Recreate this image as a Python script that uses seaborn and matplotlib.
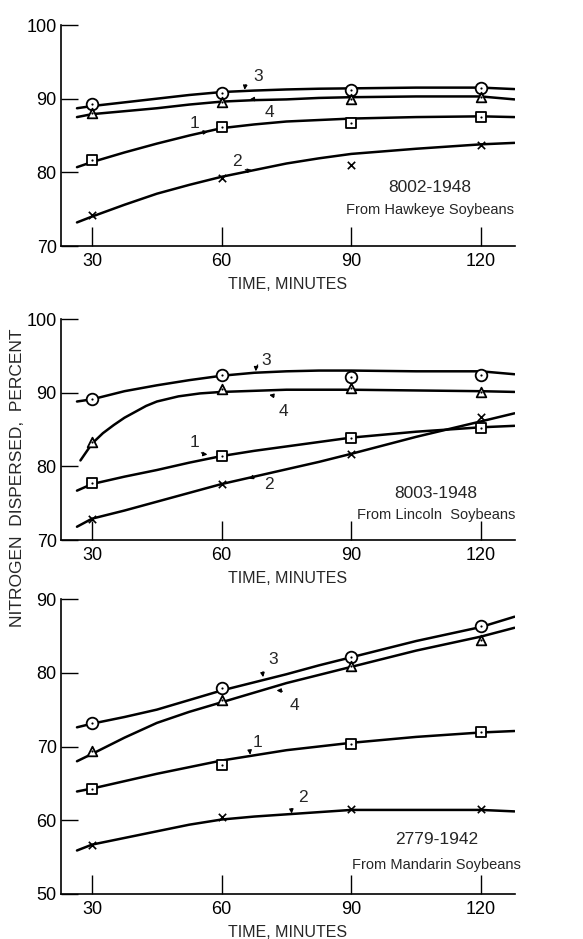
import matplotlib
matplotlib.use("Agg")
import matplotlib.pyplot as plt
import seaborn as sns
import pandas as pd

sns.set_theme(style="ticks")
plt.rcParams['font.family'] = ['Liberation Sans', 'DejaVu Sans']

# ---------------- data ----------------
time = [30, 60, 90, 120]
curve_x = [26.5, 30, 37.5, 45, 52.5, 60, 67.5, 75, 82.5, 90, 105, 120, 127.8]

# Panel 1: 8002-1948, Hawkeye soybeans (measured points)
hawk_1 = [81.7, 86.1, 86.7, 87.5]
hawk_2 = [74.2, 79.2, 81.0, 83.7]
hawk_3 = [89.3, 90.8, 91.2, 91.4]
hawk_4 = [88.0, 89.5, 90.0, 90.2]
# hand-fitted curves read at curve_x
hawk_c1 = [80.7, 81.4, 82.7, 83.9, 85.0, 86.0, 86.5, 86.9, 87.1, 87.3, 87.5, 87.6, 87.5]
hawk_c2 = [73.2, 74.0, 75.6, 77.1, 78.3, 79.4, 80.3, 81.2, 81.9, 82.5, 83.2, 83.8, 84.0]
hawk_c3 = [88.7, 89.0, 89.5, 90.0, 90.5, 90.9, 91.1, 91.25, 91.35, 91.4, 91.5, 91.5, 91.3]
hawk_c4 = [87.5, 87.9, 88.3, 88.7, 89.2, 89.6, 89.8, 89.9, 90.1, 90.2, 90.3, 90.3, 89.9]

# Panel 2: 8003-1948, Lincoln soybeans
linc_1 = [77.7, 81.4, 83.9, 85.2]
linc_2 = [72.9, 77.6, 81.7, 86.7]
linc_3 = [89.2, 92.4, 92.1, 92.4]
linc_4 = [83.3, 90.5, 90.6, 90.1]
linc_c1 = [76.7, 77.6, 78.6, 79.5, 80.5, 81.4, 82.1, 82.7, 83.3, 83.9, 84.7, 85.3, 85.5]
linc_c2 = [71.8, 72.9, 74.0, 75.2, 76.4, 77.6, 78.6, 79.6, 80.6, 81.7, 84.0, 86.1, 87.2]
linc_c3 = [88.8, 89.1, 90.2, 91.0, 91.7, 92.3, 92.7, 92.9, 93.0, 93.0, 92.9, 92.9, 92.5]
linc_c4_x = [27.3, 30, 32.5, 35, 37.5, 40, 42.5, 45, 50, 55, 60, 75, 90, 105, 120, 127.8]
linc_c4 = [80.8, 83.1, 84.5, 85.6, 86.6, 87.4, 88.2, 88.8, 89.5, 89.9, 90.1, 90.4, 90.4, 90.3, 90.2, 90.1]

# Panel 3: 2779-1942, Mandarin soybeans
mand_1 = [64.2, 67.5, 70.4, 71.9]
mand_2 = [56.7, 60.5, 61.5, 61.5]
mand_3 = [73.2, 77.9, 82.2, 86.4]
mand_4 = [69.4, 76.3, 80.9, 84.4]
mand_c1 = [63.9, 64.3, 65.3, 66.3, 67.2, 68.1, 68.8, 69.5, 70.0, 70.5, 71.3, 71.9, 72.1]
mand_c2 = [55.9, 56.7, 57.6, 58.5, 59.4, 60.1, 60.5, 60.8, 61.1, 61.4, 61.4, 61.4, 61.2]
mand_c3 = [72.6, 73.1, 74.0, 75.0, 76.3, 77.6, 78.7, 79.8, 81.0, 82.1, 84.3, 86.2, 87.6]
mand_c4 = [68.0, 69.0, 71.2, 73.2, 74.7, 76.0, 77.3, 78.6, 79.7, 80.8, 83.0, 84.9, 86.1]

x_ticks = [30, 60, 90, 120]
panel_titles = [("8002-1948", "From Hawkeye Soybeans"),
                ("8003-1948", "From Lincoln  Soybeans"),
                ("2779-1942", "From Mandarin Soybeans")]

# ---------------- figure ----------------
fig = plt.figure(figsize=(5.83, 9.39), dpi=100)
W, H = 583, 939


def add_axes(left, top, right, bottom):
    return fig.add_axes([left / W, 1 - bottom / H, (right - left) / W, (bottom - top) / H])


axes = [add_axes(61, 25, 515, 246), add_axes(61, 319, 515, 540), add_axes(61, 599, 515, 894)]
ylims = [(70, 100), (70, 100), (50, 90)]
yticks = [[70, 80, 90, 100], [70, 80, 90, 100], [50, 60, 70, 80, 90]]

panels = [
    dict(pts={1: hawk_1, 2: hawk_2, 3: hawk_3, 4: hawk_4},
         curves={1: (curve_x, hawk_c1), 2: (curve_x, hawk_c2), 3: (curve_x, hawk_c3), 4: (curve_x, hawk_c4)},
         labels={3: ((68.5, 93.0), (65.3, 91.2)), 4: ((71.0, 88.1), (66.5, 89.9)),
                 1: ((53.8, 86.6), (56.8, 85.5)), 2: ((63.6, 81.5), (67.0, 80.3))},
         title_xy=(108.2, 78.0, 74.9)),
    dict(pts={1: linc_1, 2: linc_2, 3: linc_3, 4: linc_4},
         curves={1: (curve_x, linc_c1), 2: (curve_x, linc_c2), 3: (curve_x, linc_c3), 4: (linc_c4_x, linc_c4)},
         labels={3: ((70.2, 94.4), (67.9, 92.9)), 4: ((74.2, 87.5), (71.0, 89.7)),
                 1: ((53.8, 83.3), (56.7, 81.6)), 2: ((71.0, 77.5), (66.3, 78.3))},
         title_xy=(109.6, 76.3, 73.4)),
    dict(pts={1: mand_1, 2: mand_2, 3: mand_3, 4: mand_4},
         curves={1: (curve_x, mand_c1), 2: (curve_x, mand_c2), 3: (curve_x, mand_c3), 4: (curve_x, mand_c4)},
         labels={3: ((72.0, 81.8), (69.6, 79.4)), 4: ((76.8, 75.6), (72.7, 77.6)),
                 1: ((68.4, 70.6), (66.6, 68.9)), 2: ((78.8, 63.1), (76.2, 60.9))},
         title_xy=(109.8, 57.4, 54.0)),
]

marker_for = {1: 's', 2: 'x', 3: 'o', 4: '^'}
size_for = {1: 60, 2: 28, 3: 70, 4: 48}

for i, (ax, p) in enumerate(zip(axes, panels)):
    for k in (1, 2, 3, 4):
        cx, cy = p['curves'][k]
        sns.lineplot(x=cx, y=cy, ax=ax, color='black', lw=1.8, sort=False, zorder=2)
    for k in (1, 2, 3, 4):
        df = pd.DataFrame({'t': time, 'v': p['pts'][k]})
        if marker_for[k] == 'x':
            sns.scatterplot(data=df, x='t', y='v', ax=ax, marker='x', s=size_for[k],
                            color='black', linewidth=1.2, zorder=4)
        else:
            sns.scatterplot(data=df, x='t', y='v', ax=ax, marker=marker_for[k], s=size_for[k],
                            facecolor='white', edgecolor='black', linewidth=1.3, zorder=4)
            sns.scatterplot(data=df, x='t', y='v', ax=ax, marker='o', s=2.5,
                            color='black', linewidth=0, zorder=5)
    for k, (txy, tip) in p['labels'].items():
        ax.annotate(str(k), xy=tip, xytext=txy, fontsize=12.5, ha='center', va='center',
                    arrowprops=dict(arrowstyle='-|>', lw=0.9, color='black',
                                    connectionstyle='arc3,rad=0.4', shrinkA=5, shrinkB=0,
                                    mutation_scale=6))
    tx, ty1, ty2 = p['title_xy']
    ax.text(tx, ty1, panel_titles[i][0], fontsize=12.5, ha='center', va='center')
    ax.text(tx, ty2, panel_titles[i][1], fontsize=10.5, ha='center', va='center')

    ax.set_xlim(22.8, 127.9)
    ax.set_ylim(*ylims[i])
    ax.set_xticks(x_ticks)
    ax.set_yticks(yticks[i])
    ax.tick_params(axis='x', direction='in', length=14, width=1.0, pad=5, labelsize=13, colors='black')
    ax.tick_params(axis='y', direction='in', length=12, width=1.0, pad=3, labelsize=13, colors='black')
    ax.set_xlabel("TIME, MINUTES", fontsize=11.5, labelpad=5)
    ax.set_ylabel("")
    sns.despine(ax=ax)
    for s in ('left', 'bottom'):
        ax.spines[s].set_linewidth(1.2)
        ax.spines[s].set_color('black')
    ax.set_facecolor('white')

fig.text(18 / W, 1 - 478 / H, "NITROGEN  DISPERSED,  PERCENT", rotation=90,
         ha='center', va='center', fontsize=12.5)

fig.savefig("out.png", dpi=100, facecolor='white')
